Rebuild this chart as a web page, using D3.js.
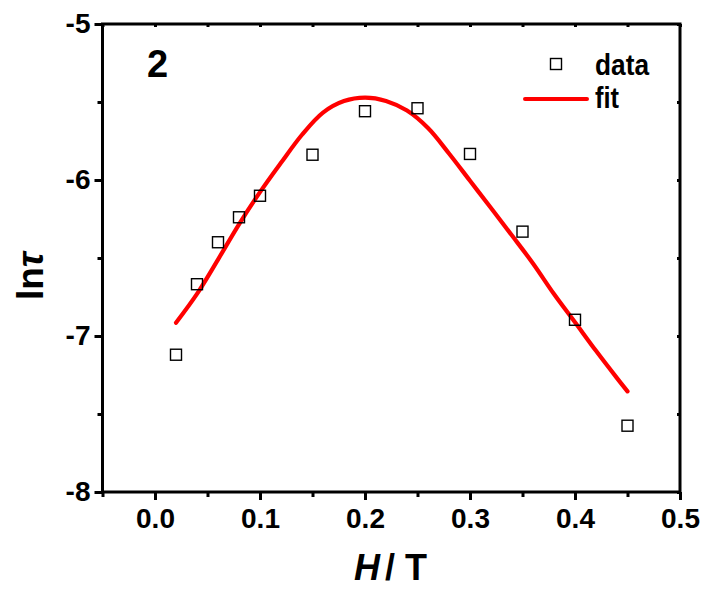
<!DOCTYPE html>
<html><head><meta charset="utf-8">
<script src="https://cdn.jsdelivr.net/npm/d3@7"></script>
<style>
html,body{margin:0;padding:0;background:#fff;}
svg text{font-family:"Liberation Sans",Arial,sans-serif;font-weight:bold;fill:#000;}
</style></head>
<body><svg id="c" width="702" height="594"></svg>
<script>
// data
const dataH   = [0.02, 0.04, 0.06, 0.08, 0.10, 0.15, 0.20, 0.25, 0.30, 0.35, 0.40, 0.45];
const dataLnT = [-7.12, -6.668, -6.399, -6.239, -6.101, -5.838, -5.559, -5.540, -5.833, -6.331, -6.896, -7.575];
const fitH    = [0.02, 0.04, 0.06, 0.08, 0.10, 0.12, 0.14, 0.16, 0.18, 0.20, 0.22, 0.24, 0.26, 0.28, 0.30, 0.32, 0.34, 0.36, 0.38, 0.40, 0.42, 0.44, 0.45];
const fitLnT  = [-6.915, -6.73, -6.51, -6.284, -6.078, -5.89, -5.71, -5.568, -5.494, -5.472, -5.493, -5.555, -5.667, -5.83, -6.005, -6.18, -6.356, -6.535, -6.731, -6.912, -7.095, -7.27, -7.355];
const xTicks = [0.0, 0.1, 0.2, 0.3, 0.4, 0.5];
const xMinor = [-0.05, 0.05, 0.15, 0.25, 0.35, 0.45];
const yTicks = [-5, -6, -7, -8];
const yMinor = [-5.5, -6.5, -7.5];

const svg = d3.select("#c");
const L = 102.5, R = 680, T = 24, B = 492;
const x = d3.scaleLinear().domain([-0.05, 0.5]).range([L, R]);
const y = d3.scaleLinear().domain([-8, -5]).range([B, T]);

// fit line
const line = d3.line().x((d,i)=>x(fitH[i])).y((d,i)=>y(fitLnT[i])).curve(d3.curveCatmullRom.alpha(0.5));
svg.append("path").attr("d", line(fitH)).attr("fill","none").attr("stroke","#ff0000")
  .attr("stroke-width",4.2).attr("stroke-linecap","round").attr("stroke-linejoin","round");

// data squares
const s = 11;
svg.selectAll("rect.pt").data(dataH).join("rect").attr("class","pt")
  .attr("x",(d)=>x(d)-s/2).attr("y",(d,i)=>y(dataLnT[i])-s/2)
  .attr("width",s).attr("height",s).attr("fill","none").attr("stroke","#000").attr("stroke-width",1.4);

// axes
const fmt = d3.format(".1f");
const xb = svg.append("g").attr("transform",`translate(0,${B})`)
  .call(d3.axisBottom(x).tickValues(xTicks).tickFormat(fmt).tickSize(8).tickPadding(8));
const xm = svg.append("g").attr("transform",`translate(0,${B})`)
  .call(d3.axisBottom(x).tickValues(xMinor).tickFormat("").tickSize(5));
const yl = svg.append("g").attr("transform",`translate(${L},0)`)
  .call(d3.axisLeft(y).tickValues(yTicks).tickFormat(d=>String(d)).tickSize(8).tickPadding(4));
const ym = svg.append("g").attr("transform",`translate(${L},0)`)
  .call(d3.axisLeft(y).tickValues(yMinor).tickFormat("").tickSize(5));
const xt = svg.append("g").attr("transform",`translate(0,${T})`)
  .call(d3.axisBottom(x).tickValues(xTicks.concat(xMinor)).tickFormat("").tickSize(3));
const yr = svg.append("g").attr("transform",`translate(${R},0)`)
  .call(d3.axisLeft(y).tickValues(yTicks.concat(yMinor)).tickFormat("").tickSize(3));
[xb,xm,yl,ym,xt,yr].forEach(g=>{
  g.select(".domain").remove();
  g.selectAll("line").attr("stroke","#000").attr("stroke-width",3);
  g.selectAll("text").style("font-size","28px").style("font-family","Liberation Sans, Arial, sans-serif").style("font-weight","bold");
});
// frame
svg.append("rect").attr("x",L).attr("y",T).attr("width",R-L).attr("height",B-T)
  .attr("fill","none").attr("stroke","#000").attr("stroke-width",3);

// axis titles
svg.append("text").attr("x",354).attr("y",580).style("font-size","36px")
  .html('<tspan font-style="italic">H</tspan><tspan dx="5">/ T</tspan>');
svg.append("text").attr("transform","translate(43,276) rotate(-90)").attr("text-anchor","middle").style("font-size","37px")
  .html('ln<tspan font-style="italic">τ</tspan>');

// panel label
svg.append("text").attr("x",147).attr("y",77).style("font-size","38px").text("2");

// legend
svg.append("rect").attr("x",556-s/2).attr("y",64-s/2).attr("width",s).attr("height",s)
  .attr("fill","none").attr("stroke","#000").attr("stroke-width",1.4);
svg.append("text").attr("x",595).attr("y",75).style("font-size","29px")
  .attr("textLength",54).attr("lengthAdjust","spacingAndGlyphs").text("data");
svg.append("line").attr("x1",525).attr("x2",587).attr("y1",99).attr("y2",99)
  .attr("stroke","#ff0000").attr("stroke-width",4).attr("stroke-linecap","round");
svg.append("text").attr("x",595).attr("y",108).style("font-size","29px")
  .attr("textLength",24).attr("lengthAdjust","spacingAndGlyphs").text("fit");
</script></body></html>
